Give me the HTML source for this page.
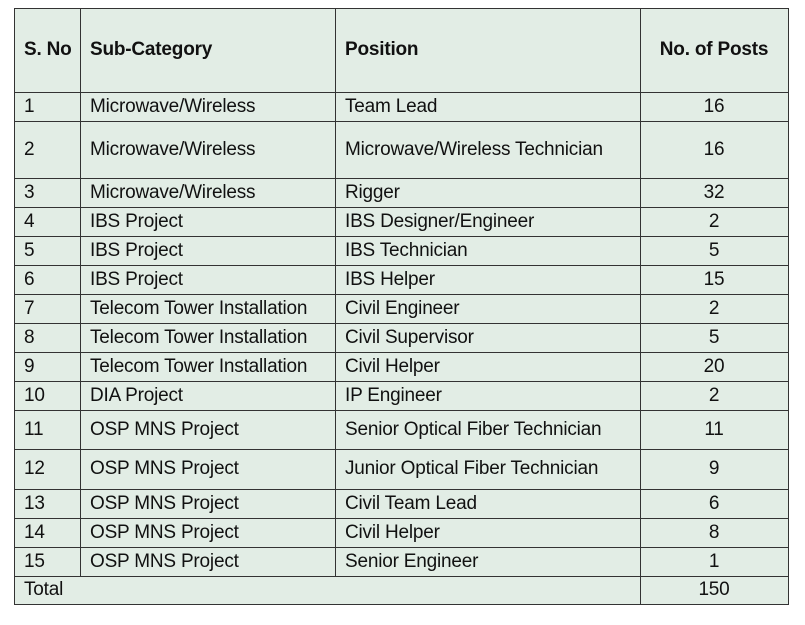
<!DOCTYPE html>
<html><head><meta charset="utf-8"><style>
body{margin:0;width:805px;height:625px;background:#fff;position:relative;font-family:"Liberation Sans",sans-serif;color:#111;overflow:hidden}
.t{position:absolute;left:14px;top:8px;width:774px;height:596px;background:#e2ede5}
.c{position:absolute;display:flex;align-items:center;font-size:19px;box-sizing:border-box;padding-left:10px;white-space:nowrap;letter-spacing:-0.2px}
.h{position:absolute;left:14px;width:775px;height:1px;background:#333}
.v{position:absolute;top:8px;width:1px;background:#333}
.ctr{justify-content:center;padding-left:0}
b{font-weight:bold}
</style></head><body>
<div class="t"></div>
<div id="g"></div>
<script>
var ys=[8,92,121,178,207,236,265,294,323,352,381,410,449,489,518,547,576,604];
var rows=[["<b>S. No</b>","<b>Sub-Category</b>","<b>Position</b>","<b>No. of Posts</b>"],
["1","Microwave/Wireless","Team Lead","16"],
["2","Microwave/Wireless","Microwave/Wireless Technician","16"],
["3","Microwave/Wireless","Rigger","32"],
["4","IBS Project","IBS Designer/Engineer","2"],
["5","IBS Project","IBS Technician","5"],
["6","IBS Project","IBS Helper","15"],
["7","Telecom Tower Installation","Civil Engineer","2"],
["8","Telecom Tower Installation","Civil Supervisor","5"],
["9","Telecom Tower Installation","Civil Helper","20"],
["10","DIA Project","IP Engineer","2"],
["11","OSP MNS Project","Senior Optical Fiber Technician","11"],
["12","OSP MNS Project","Junior Optical Fiber Technician","9"],
["13","OSP MNS Project","Civil Team Lead","6"],
["14","OSP MNS Project","Civil Helper","8"],
["15","OSP MNS Project","Senior Engineer","1"]];
var xs=[14,80,335,640,788];
var h="";
ys.forEach(function(y){h+='<div class="h" style="top:'+y+'px"></div>';});
xs.forEach(function(x,i){var bot=(i==0||i>=3)?604:576;h+='<div class="v" style="left:'+x+'px;height:'+(bot-8+1)+'px"></div>';});
rows.forEach(function(r,ri){var t=ys[ri],b=ys[ri+1];for(var j=0;j<4;j++){h+='<div class="c'+(j==3?' ctr':'')+'" style="left:'+xs[j]+'px;width:'+(xs[j+1]-xs[j])+'px;top:'+t+'px;height:'+(b-t)+'px">'+r[j]+'</div>';}});
h+='<div class="c" style="left:14px;width:300px;top:576px;height:28px">Total</div>';
h+='<div class="c ctr" style="left:640px;width:148px;top:576px;height:28px">150</div>';
document.getElementById("g").innerHTML=h;
</script>
</body></html>
